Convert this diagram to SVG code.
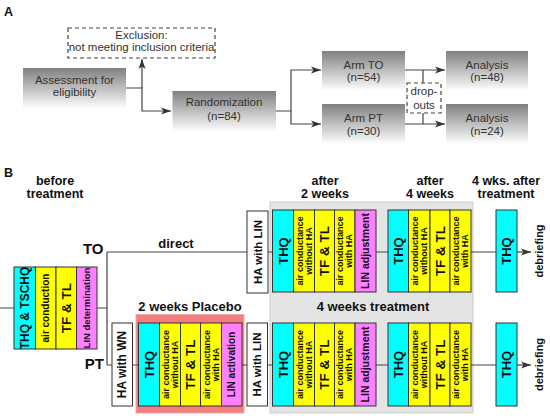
<svg xmlns="http://www.w3.org/2000/svg" width="550" height="418" viewBox="0 0 550 418">
<defs>
<linearGradient id="g" x1="0" y1="0" x2="0" y2="1">
<stop offset="0" stop-color="#808080"/>
<stop offset="1" stop-color="#ffffff"/>
</linearGradient>
<marker id="ar" markerUnits="userSpaceOnUse" markerWidth="11" markerHeight="8" refX="10" refY="4" orient="auto">
<path d="M0,0.5 L10,4 L0,7.5 L2.5,4 z" fill="#333"/>
</marker>
<style>
.gb{fill:url(#g)}
.ta{font-family:"Liberation Sans",Arial,sans-serif;font-size:11.5px;fill:#333;text-anchor:middle}
.tb{font-family:"Liberation Sans",Arial,sans-serif;font-weight:bold;fill:#111;text-anchor:middle}
.c{fill:#00ffff;stroke:#333;stroke-width:1}
.y{fill:#ffff00;stroke:#333;stroke-width:1}
.m{fill:#ff80ff;stroke:#333;stroke-width:1}
.w{fill:#ffffff;stroke:#333;stroke-width:1}
.ln{stroke:#444;stroke-width:1.2;fill:none}
.ds{fill:#fff;stroke:#444;stroke-width:1.2;stroke-dasharray:4,3}
.s13{font-size:13px}
.hd{font-size:12.5px}
.s9{font-size:9px}
</style>
</defs>

<!-- Part A -->
<text class="tb" x="4" y="15.5" style="font-size:12.5px;text-anchor:start">A</text>

<g id="connectorsA">
<path class="ln" d="M126,88 H142 V111 H171" marker-end="url(#ar)"/>
<path class="ln" d="M142,88 V59" marker-end="url(#ar)"/>
<path class="ln" d="M276,111 H291 V70 H321" marker-end="url(#ar)"/>
<path class="ln" d="M291,111 V124 H321" marker-end="url(#ar)"/>
<path class="ln" d="M405,70 H445" marker-end="url(#ar)"/>
<path class="ln" d="M405,124 H445" marker-end="url(#ar)"/>
<path class="ln" d="M423,70 V83 M423,113 V124"/>
</g>

<g id="exclusion">
<rect class="ds" x="68" y="28" width="147" height="30"/>
<text class="ta" x="141.5" y="38.5">Exclusion:</text>
<text class="ta" x="141.5" y="51">not meeting inclusion criteria</text>
</g>
<g id="assessment">
<rect class="gb" x="23" y="68" width="103" height="41"/>
<text class="ta" x="74.5" y="83.5">Assessment for</text>
<text class="ta" x="74.5" y="96">eligibility</text>
</g>
<g id="randomization">
<rect class="gb" x="172.5" y="91" width="103.5" height="41"/>
<text class="ta" x="224" y="106">Randomization</text>
<text class="ta" x="224" y="119.5">(n=84)</text>
</g>
<g id="armTO">
<rect class="gb" x="322" y="51" width="83" height="40"/>
<text class="ta" x="363.5" y="68.5">Arm TO</text>
<text class="ta" x="363.5" y="81">(n=54)</text>
</g>
<g id="armPT">
<rect class="gb" x="322" y="104" width="83" height="40"/>
<text class="ta" x="363.5" y="122">Arm PT</text>
<text class="ta" x="363.5" y="134.5">(n=30)</text>
</g>
<g id="analysisTO">
<rect class="gb" x="446" y="51" width="82" height="40"/>
<text class="ta" x="487" y="68.5">Analysis</text>
<text class="ta" x="487" y="81">(n=48)</text>
</g>
<g id="analysisPT">
<rect class="gb" x="446" y="104" width="82" height="40"/>
<text class="ta" x="487" y="122">Analysis</text>
<text class="ta" x="487" y="134.5">(n=24)</text>
</g>
<g id="dropouts">
<rect class="ds" x="407" y="83" width="34" height="30"/>
<text class="ta" x="424" y="95">drop-</text>
<text class="ta" x="424" y="108.5">outs</text>
</g>

<!-- Part B -->
<text class="tb" x="4" y="177" style="font-size:12.5px;text-anchor:start">B</text>
<text class="tb hd" x="55" y="184.5">before</text>
<text class="tb hd" x="55" y="198">treatment</text>
<text class="tb hd" x="325" y="184.5">after</text>
<text class="tb hd" x="325" y="198">2 weeks</text>
<text class="tb hd" x="430" y="184.5">after</text>
<text class="tb hd" x="430" y="198">4 weeks</text>
<text class="tb hd" x="506" y="184.5">4 wks. after</text>
<text class="tb hd" x="506" y="198">treatment</text>

<g id="panels">
<rect x="270" y="202" width="203" height="211" fill="#e4e4e4" stroke="#cccccc" stroke-width="1"/>
<rect x="136" y="314.5" width="108" height="98.5" fill="#f37e7e" stroke="#f0a8a8" stroke-width="1"/>
<text class="tb s13" x="373" y="311">4 weeks treatment</text>
<text class="tb s13" x="190" y="310.5">2 weeks Placebo</text>
</g>

<g id="connectorsB">
<path class="ln" d="M0,308 H14 M97,308 H107 M107,252 V365"/>
<path class="ln" d="M107,252 H247 M268,252 H273 M376,252 H388 M471,252 H496"/>
<path class="ln" d="M517,252 H531" marker-end="url(#ar)"/>
<path class="ln" d="M107,365 H112 M132.5,365 H138.5 M242,365 H247 M267.5,365 H273 M376,365 H388 M471,365 H496"/>
<path class="ln" d="M517,365 H531" marker-end="url(#ar)"/>
</g>
<text class="tb" x="103.5" y="254" style="font-size:15px;text-anchor:end">TO</text>
<text class="tb" x="104" y="369" style="font-size:15px;text-anchor:end">PT</text>
<text class="tb s13" x="176" y="247.5">direct</text>

<g id="before">
<rect class="c" x="14" y="267" width="21.5" height="82"/>
<rect class="y" x="35.5" y="267" width="20.5" height="82"/>
<rect class="y" x="56" y="267" width="20.5" height="82"/>
<rect class="m" x="76.5" y="267" width="20.5" height="82"/>
<text class="tb" transform="translate(24.75,308) rotate(-90)" y="4.2" style="font-size:12px">THQ &amp; TSCHQ</text>
<text class="tb" transform="translate(45.75,308) rotate(-90)" y="3.5" style="font-size:10px">air conduction</text>
<text class="tb" transform="translate(66.25,308) rotate(-90)" y="4.7" style="font-size:13.5px">TF &amp; TL</text>
<text class="tb" transform="translate(86.75,308) rotate(-90)" y="3.3" style="font-size:9.5px">LIN determination</text>
</g>

<g id="haWithLinTO">
<rect class="w" x="247" y="211" width="21" height="82"/>
<text class="tb" transform="translate(257.5,252) rotate(-90)" y="4" style="font-size:11.5px">HA with LIN</text>
</g>

<g id="to2weeks">
<rect class="c" x="272.5" y="210" width="21" height="82"/>
<rect class="y" x="293.5" y="210" width="21" height="82"/>
<rect class="y" x="314.5" y="210" width="20" height="82"/>
<rect class="y" x="334.5" y="210" width="20.5" height="82"/>
<rect class="m" x="355" y="210" width="21" height="82"/>
<text class="tb s13" transform="translate(283,251) rotate(-90)" y="4.5">THQ</text>
<text class="tb s9" transform="translate(304,251) rotate(-90)"><tspan x="0" y="-1.4">air conductance</tspan><tspan x="0" y="7.7">without HA</tspan></text>
<text class="tb" transform="translate(324.5,251) rotate(-90)" y="4.7" style="font-size:13.5px">TF &amp; TL</text>
<text class="tb s9" transform="translate(344.75,251) rotate(-90)"><tspan x="0" y="-1.4">air conductance</tspan><tspan x="0" y="7.7">with HA</tspan></text>
<text class="tb" transform="translate(365.5,251) rotate(-90)" y="3.7" style="font-size:10.5px">LIN adjustment</text>
</g>

<g id="to4weeks">
<rect class="c" x="388" y="210" width="20.5" height="82"/>
<rect class="y" x="408.5" y="210" width="21.5" height="82"/>
<rect class="y" x="430" y="210" width="20" height="82"/>
<rect class="y" x="450" y="210" width="21" height="82"/>
<text class="tb s13" transform="translate(398.25,251) rotate(-90)" y="4.5">THQ</text>
<text class="tb s9" transform="translate(419.25,251) rotate(-90)"><tspan x="0" y="-1.4">air conductance</tspan><tspan x="0" y="7.7">without HA</tspan></text>
<text class="tb" transform="translate(440,251) rotate(-90)" y="4.7" style="font-size:13.5px">TF &amp; TL</text>
<text class="tb s9" transform="translate(460.5,251) rotate(-90)"><tspan x="0" y="-1.4">air conductance</tspan><tspan x="0" y="7.7">with HA</tspan></text>
</g>

<g id="toAfter">
<rect class="c" x="496" y="210" width="21" height="82"/>
<text class="tb s13" transform="translate(506.5,251) rotate(-90)" y="4.5">THQ</text>
<text class="tb" transform="translate(539,251) rotate(-90)" y="3.8" style="font-size:11px">debriefing</text>
</g>

<g id="haWithWN">
<rect class="w" x="112" y="323" width="20.5" height="83"/>
<text class="tb" transform="translate(122.25,364.5) rotate(-90)" y="4.2" style="font-size:12px">HA with WN</text>
</g>

<g id="placebo">
<rect class="c" x="138.5" y="323" width="21" height="83"/>
<rect class="y" x="159.5" y="323" width="21" height="83"/>
<rect class="y" x="180.5" y="323" width="20" height="83"/>
<rect class="y" x="200.5" y="323" width="21" height="83"/>
<rect class="m" x="221.5" y="323" width="20.5" height="83"/>
<text class="tb s13" transform="translate(149,364.5) rotate(-90)" y="4.5">THQ</text>
<text class="tb s9" transform="translate(170,364.5) rotate(-90)"><tspan x="0" y="-1.4">air conductance</tspan><tspan x="0" y="7.7">without HA</tspan></text>
<text class="tb" transform="translate(190.5,364.5) rotate(-90)" y="4.7" style="font-size:13.5px">TF &amp; TL</text>
<text class="tb s9" transform="translate(211,364.5) rotate(-90)"><tspan x="0" y="-1.4">air conductance</tspan><tspan x="0" y="7.7">with HA</tspan></text>
<text class="tb" transform="translate(231.75,364.5) rotate(-90)" y="3.5" style="font-size:10px">LIN activation</text>
</g>

<g id="haWithLinPT">
<rect class="w" x="247" y="323" width="20.5" height="83"/>
<text class="tb" transform="translate(257.25,364.5) rotate(-90)" y="4" style="font-size:11.5px">HA with LIN</text>
</g>

<g id="pt2weeks">
<rect class="c" x="272.5" y="323" width="21" height="83"/>
<rect class="y" x="293.5" y="323" width="21" height="83"/>
<rect class="y" x="314.5" y="323" width="20" height="83"/>
<rect class="y" x="334.5" y="323" width="20.5" height="83"/>
<rect class="m" x="355" y="323" width="21" height="83"/>
<text class="tb s13" transform="translate(283,364.5) rotate(-90)" y="4.5">THQ</text>
<text class="tb s9" transform="translate(304,364.5) rotate(-90)"><tspan x="0" y="-1.4">air conductance</tspan><tspan x="0" y="7.7">without HA</tspan></text>
<text class="tb" transform="translate(324.5,364.5) rotate(-90)" y="4.7" style="font-size:13.5px">TF &amp; TL</text>
<text class="tb s9" transform="translate(344.75,364.5) rotate(-90)"><tspan x="0" y="-1.4">air conductance</tspan><tspan x="0" y="7.7">with HA</tspan></text>
<text class="tb" transform="translate(365.5,364.5) rotate(-90)" y="3.7" style="font-size:10.5px">LIN adjustment</text>
</g>

<g id="pt4weeks">
<rect class="c" x="388" y="323" width="20.5" height="83"/>
<rect class="y" x="408.5" y="323" width="21.5" height="83"/>
<rect class="y" x="430" y="323" width="20" height="83"/>
<rect class="y" x="450" y="323" width="21" height="83"/>
<text class="tb s13" transform="translate(398.25,364.5) rotate(-90)" y="4.5">THQ</text>
<text class="tb s9" transform="translate(419.25,364.5) rotate(-90)"><tspan x="0" y="-1.4">air conductance</tspan><tspan x="0" y="7.7">without HA</tspan></text>
<text class="tb" transform="translate(440,364.5) rotate(-90)" y="4.7" style="font-size:13.5px">TF &amp; TL</text>
<text class="tb s9" transform="translate(460.5,364.5) rotate(-90)"><tspan x="0" y="-1.4">air conductance</tspan><tspan x="0" y="7.7">with HA</tspan></text>
</g>

<g id="ptAfter">
<rect class="c" x="496" y="323" width="21" height="83"/>
<text class="tb s13" transform="translate(506.5,364.5) rotate(-90)" y="4.5">THQ</text>
<text class="tb" transform="translate(539,364.5) rotate(-90)" y="3.8" style="font-size:11px">debriefing</text>
</g>
</svg>
